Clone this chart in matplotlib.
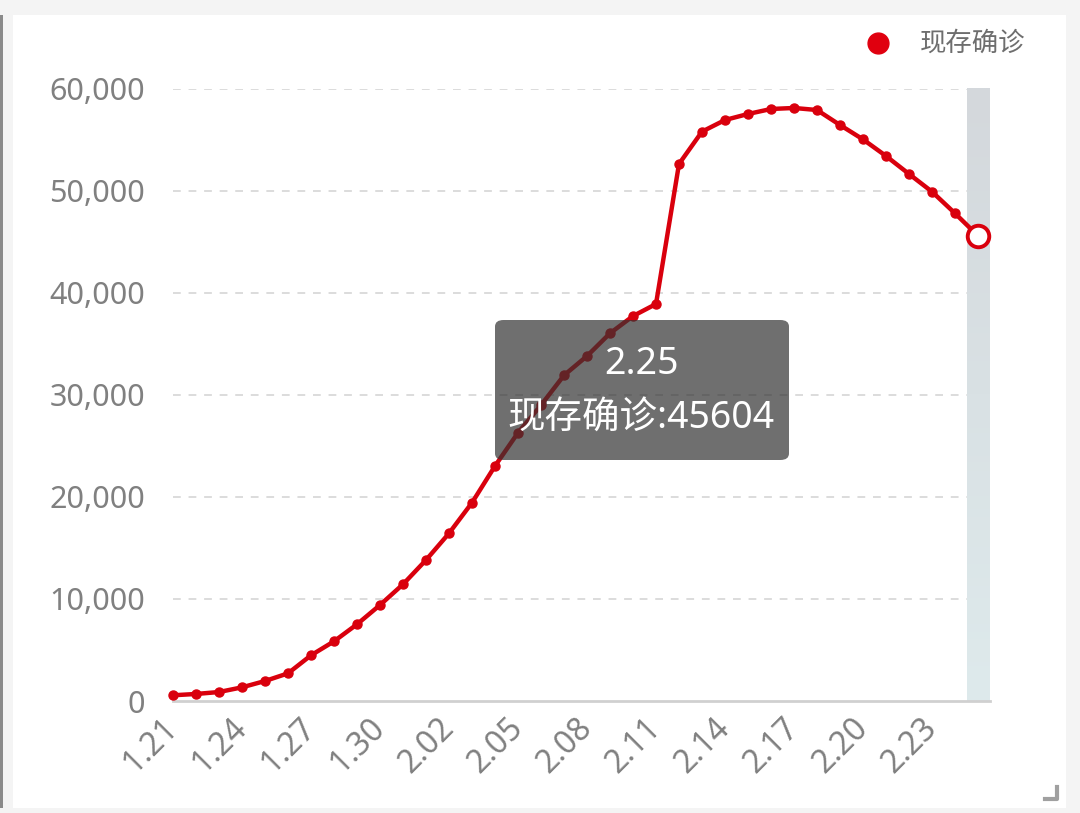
import matplotlib
matplotlib.use('Agg')
import matplotlib.pyplot as plt
from matplotlib.patches import FancyBboxPatch, Rectangle
import numpy as np

plt.rcParams['font.family'] = ['Noto Sans', 'Noto Sans CJK SC', 'DejaVu Sans']

# data: current confirmed cases per day
dates = ['1.21', '1.22', '1.23', '1.24', '1.25', '1.26', '1.27', '1.28', '1.29', '1.30', '1.31',
         '2.01', '2.02', '2.03', '2.04', '2.05', '2.06', '2.07', '2.08', '2.09', '2.10',
         '2.11', '2.12', '2.13', '2.14', '2.15', '2.16', '2.17', '2.18', '2.19', '2.20',
         '2.21', '2.22', '2.23', '2.24', '2.25']
values = [560, 690, 880, 1340, 1960, 2710, 4480, 5850, 7520, 9410, 11440,
          13820, 16440, 19440, 23040, 26300, 29000, 31930, 33820, 36050, 37740,
          38920, 52650, 55820, 56960, 57550, 58040, 58140, 57940, 56470, 55060,
          53430, 51670, 49930, 47810, 45604]
y_ticks = [0, 10000, 20000, 30000, 40000, 50000, 60000]
series_name = '现存确诊'

RED = '#d9000d'
W, H = 1080, 813

fig = plt.figure(figsize=(W / 100, H / 100), dpi=100, facecolor='#f4f4f4')

# white card
fig.add_artist(Rectangle((13 / W, 1 - 808 / H), (1066 - 13) / W, (808 - 15) / H,
                         transform=fig.transFigure, facecolor='white', edgecolor='none', zorder=0))
fig.add_artist(Rectangle((0, 1 - 808 / H), 2.5 / W, (808 - 15) / H,
                         transform=fig.transFigure, facecolor='#8a8a8a', edgecolor='none', zorder=0))

ax = fig.add_axes([173 / W, 1 - 701 / H, (978 - 173) / W, (701 - 89) / H])
ax.set_facecolor('none')
x = np.arange(len(dates))

ax.set_xlim(0, len(dates) - 1)
ax.set_ylim(0, 60000)

# dashed grid
for v in y_ticks[1:]:
    ax.axhline(v, color='#dcdcdc', lw=1.4, ls=(0, (4, 4)), zorder=1)
ax.axhline(0, xmin=0, xmax=1.015, color='#d0d0d0', lw=2, clip_on=False, zorder=2)

# axis pointer shadow band on last item
grad = np.linspace(0, 1, 256).reshape(-1, 1)
top = np.array([212, 216, 220]) / 255
bot = np.array([222, 234, 236]) / 255
img = top[None, None, :] * (1 - grad[..., None]) + bot[None, None, :] * grad[..., None]
ax.imshow(img, extent=[x[-1] - 0.48, x[-1] + 0.52, 0, 60000], aspect='auto',
          origin='upper', zorder=1.5, clip_on=False)

ax.plot(x[:-1], values[:-1], color=RED, lw=3.2, marker='o', ms=6.5, zorder=4, clip_on=False)
ax.plot(x[-2:], values[-2:], color=RED, lw=3.2, zorder=4, clip_on=False)
ax.plot(x[-1], values[-1], marker='o', ms=15.5, mfc='white', mec=RED, mew=2.8,
        zorder=5, clip_on=False)

for s in ax.spines.values():
    s.set_visible(False)

ax.set_yticks(y_ticks)
ax.set_yticklabels([f'{v:,}' for v in y_ticks])
ax.tick_params(axis='y', length=0, pad=20, labelsize=22, labelcolor='#808080')

ax.set_xticks(x[::3])
ax.set_xticklabels(dates[::3], rotation=45, ha='right', va='center', rotation_mode='anchor')
ax.tick_params(axis='x', length=0, pad=16, labelsize=23, labelcolor='#808080')
for lbl in ax.get_xticklabels():
    lbl.set_x(lbl.get_position()[0])

# legend
fig.add_artist(plt.Line2D([878 / W], [1 - 43 / H], marker='o', ms=15, color='#e0000f',
                          lw=0, transform=fig.transFigure))
fig.text(920 / W, 1 - 43 / H, series_name, fontsize=19, color='#6e6e6e',
         va='center', ha='left', family=['Noto Sans CJK SC', 'DejaVu Sans'])

# tooltip
fig.add_artist(FancyBboxPatch((495 / W, 1 - 460 / H), (789 - 495) / W, (460 - 320) / H,
                              boxstyle='round,pad=0,rounding_size=0.008',
                              transform=fig.transFigure, facecolor=(50 / 255, 50 / 255, 50 / 255, 0.7),
                              edgecolor='none', zorder=6))
fig.text(641 / W, 1 - 364 / H, dates[-1], fontsize=27, color='white',
         ha='center', va='center', zorder=7)
fig.text(641 / W, 1 - 419 / H, f'{series_name}:{values[-1]}', fontsize=27, color='white',
         ha='center', va='center', zorder=7, family=['Noto Sans', 'Noto Sans CJK SC'])

# resize corner mark
fig.add_artist(plt.Line2D([1045 / W, 1057 / W, 1057 / W], [1 - 799 / H, 1 - 799 / H, 1 - 787 / H],
                          color='#a0a0a0', lw=3, transform=fig.transFigure))

plt.savefig('out.png', dpi=100, facecolor=fig.get_facecolor())
